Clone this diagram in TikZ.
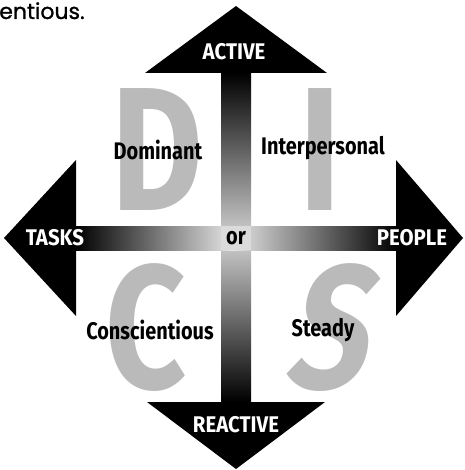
\documentclass[tikz,border=0pt]{standalone}
\usepackage{fontspec}
\usepackage{xcolor}
\newfontfamily\titlefont[FakeBold=1]{Poppins}
\newfontfamily\axisfont[FakeStretch=0.9]{Fira Sans}
\newfontfamily\condfont[FakeStretch=0.83]{Fira Sans}
\newfontfamily\letterfont[FakeStretch=0.8]{Fira Sans}
\newfontfamily\slantletterfont[FakeStretch=0.8,FakeSlant=0.22]{Fira Sans}
\definecolor{lettergray}{gray}{0.73}

\begin{document}
\begin{tikzpicture}[x=0.75pt,y=-0.75pt,
  axislabel/.style={text=white,inner sep=0pt,font=\axisfont\bfseries\fontsize{17}{17}\selectfont},
  trait/.style={inner sep=0pt,font=\condfont\bfseries\fontsize{18}{18}\selectfont},
  bigletter/.style={text=lettergray,inner sep=0pt,font=\letterfont\bfseries\fontsize{132}{132}\selectfont}]
  \useasboundingbox (0,0) rectangle (464,470);
  \coordinate (c) at (236,238);

  % the four letters
  \node[bigletter] (D) at (157,150) {D};
  \node[bigletter] (I) at (320,150) {I};
  \node[bigletter] (C) at (146,328) {C};
  \node[bigletter,font=\slantletterfont\bfseries\fontsize{132}{132}\selectfont] (S) at (323,328) {S};

  % shafts
  \shade[top color=black,bottom color=black!18] (221,73) rectangle (251,238);
  \shade[top color=black!18,bottom color=black] (221,238) rectangle (251,402);
  \shade[left color=black,right color=black!8] (76,226) rectangle (236,250);
  \shade[left color=black!12,right color=black] (236,226) rectangle (397,250);
  \fill[black!14] (221,226) rectangle (251,250);

  % arrow heads
  \fill (145,73) -- (236,6) -- (327,73) -- cycle;
  \fill (147,402) -- (236,469) -- (325,402) -- cycle;
  \fill (76,160) -- (4,238) -- (76,316) -- cycle;
  \fill (396,160) -- (463,238) -- (396,316) -- cycle;

  \node[axislabel] (active) at (234,52) {ACTIVE};
  \node[axislabel] (reactive) at (236,425) {REACTIVE};
  \node[axislabel] (tasks) at (55,238) {TASKS};
  \node[axislabel] (people) at (412,238) {PEOPLE};

  \node[trait] (or) at (c) {or};
  \node[trait] (dominant) at (158,150) {Dominant};
  \node[trait] (interpersonal) at (323,148) {Interpersonal};
  \node[trait] (conscientious) at (150,330) {Conscientious};
  \node[trait] (steady) at (323,330) {Steady};

  \node[anchor=base west,inner sep=0pt,font=\titlefont\fontsize{16.5}{16.5}\selectfont] (title) at (-1,19) {entious.};
\end{tikzpicture}
\end{document}
